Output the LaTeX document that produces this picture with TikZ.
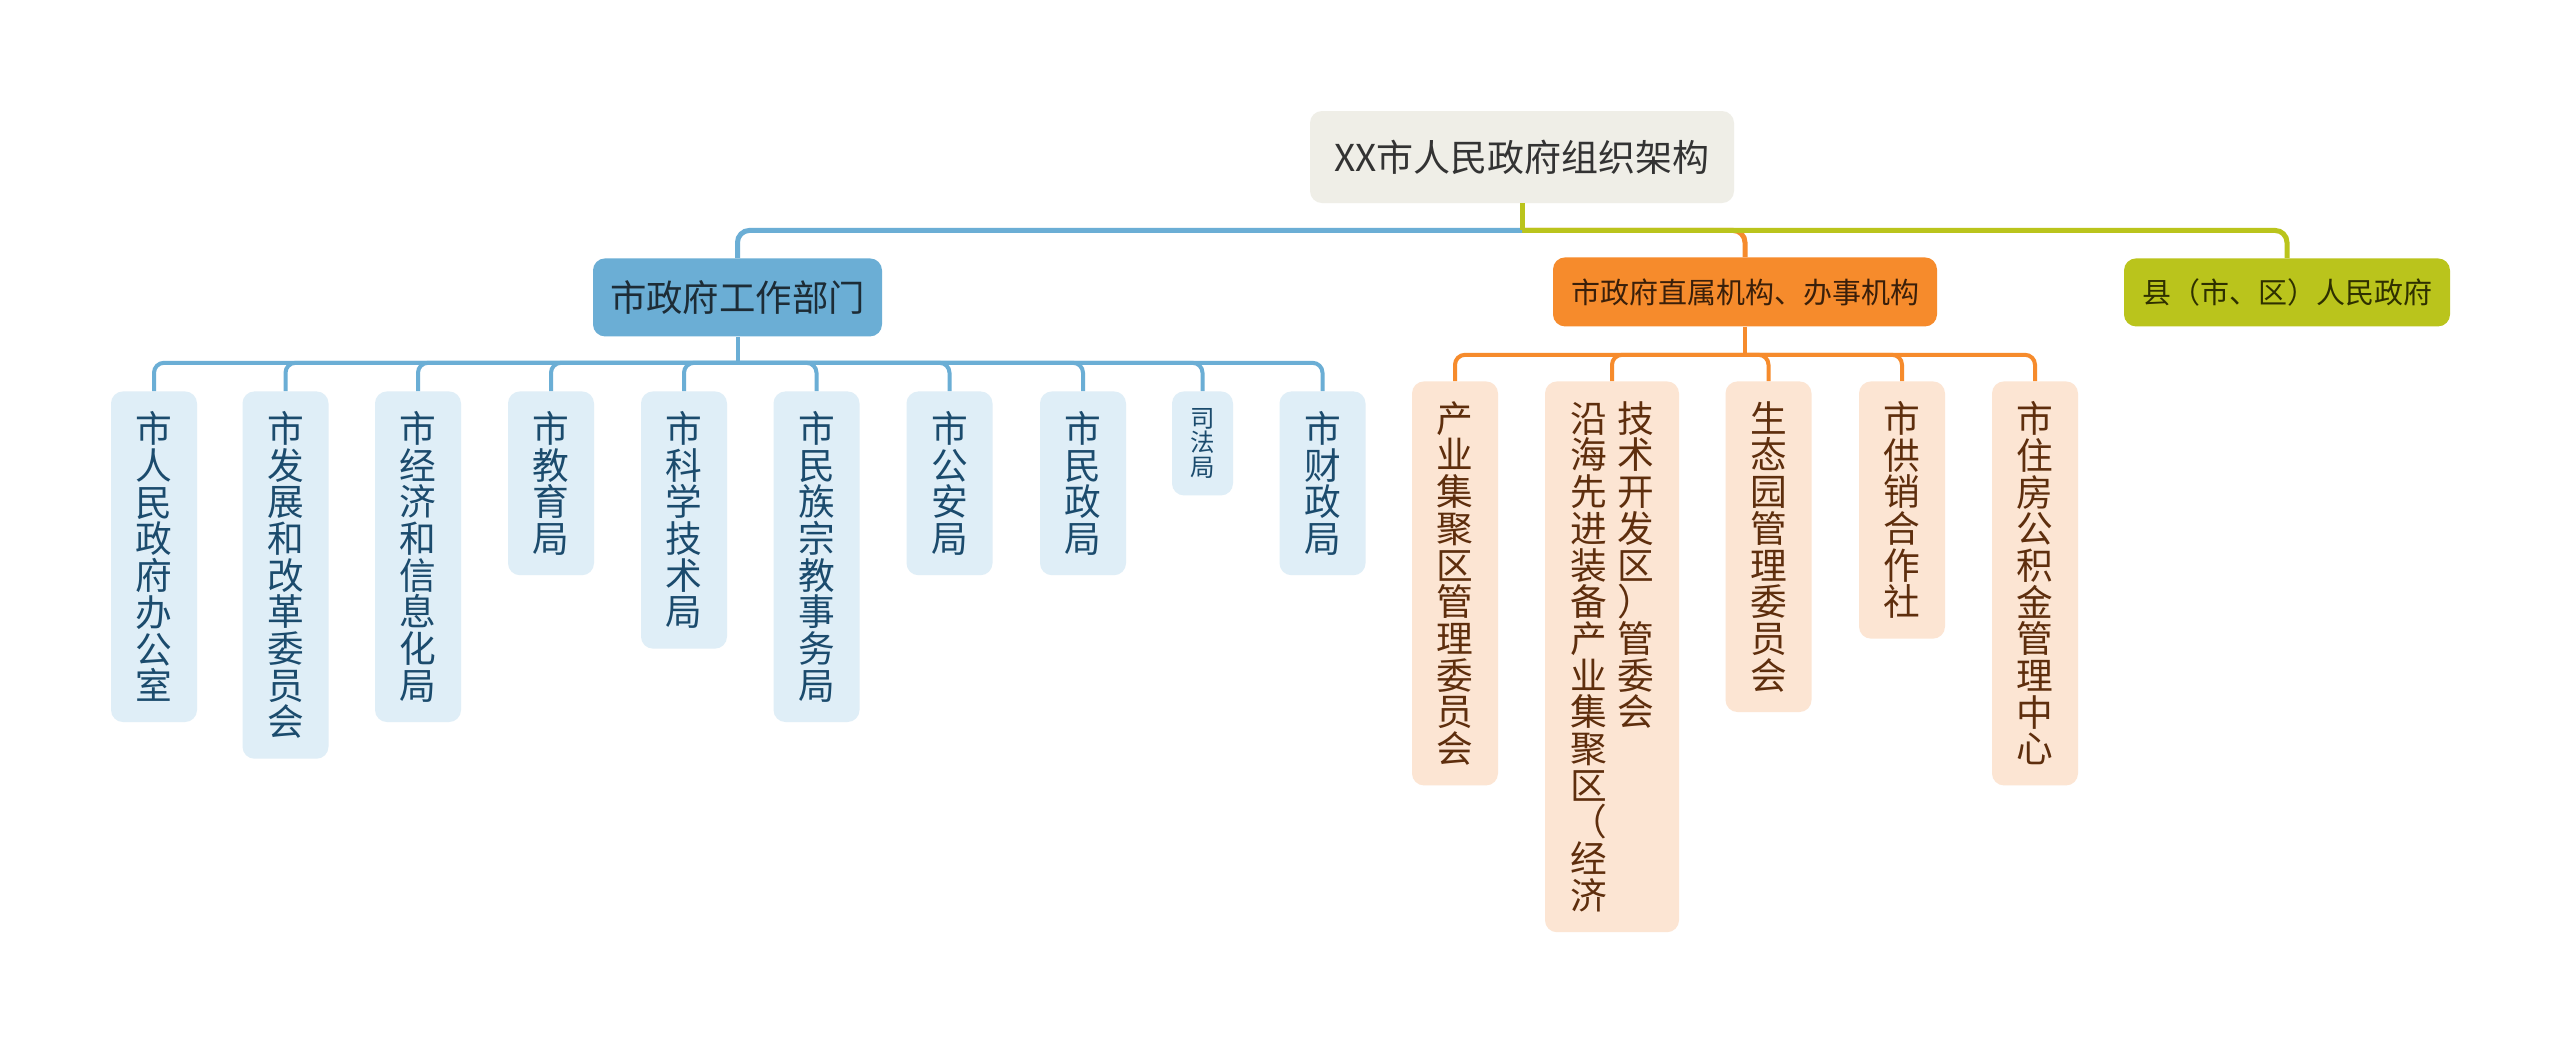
\documentclass[tikz,border=0pt]{standalone}
\usepackage{fontspec}
\setmainfont{Noto Sans CJK SC}
\definecolor{rootc}{HTML}{EFEEE7}
\definecolor{bluec}{HTML}{6BAED5}
\definecolor{orangec}{HTML}{F68B2C}
\definecolor{greenc}{HTML}{BAC41C}
\definecolor{bluelt}{HTML}{DFEEF7}
\definecolor{orangelt}{HTML}{FCE5D3}
\definecolor{bluetext}{HTML}{1B4B6D}
\definecolor{browntext}{HTML}{5E2E0D}
\definecolor{darktext}{HTML}{333333}
\definecolor{bluehead}{HTML}{1D2C36}
\definecolor{orangehead}{HTML}{3A1F0A}
\definecolor{greenhead}{HTML}{2E3000}
\begin{document}
\lineskiplimit=-20pt
\lineskip=0pt
\begin{tikzpicture}[x=0.5pt,y=-0.5pt,
  rootbox/.style={fill=rootc, rounded corners=6pt, minimum width=212pt, minimum height=46pt, inner sep=0pt, text=darktext, font=\fontsize{18.5pt}{22pt}\selectfont},
  headbox/.style={rounded corners=6pt, inner sep=0pt, anchor=north},
  vbox/.style={rounded corners=6pt, minimum width=43pt, inner sep=0pt, anchor=north, align=center, font=\fontsize{18.35pt}{18.35pt}\selectfont},
  vbb/.style={vbox, fill=bluelt, text=bluetext},
  vob/.style={vbox, fill=orangelt, text=browntext},
  vh/.style={minimum height={(18.5+#1*18.35)*1pt}},
  bline/.style={draw=bluec, line width=2.5pt},
  oline/.style={draw=orangec, line width=2.5pt},
  gline/.style={draw=greenc, line width=2.5pt},
  blineS/.style={draw=bluec, line width=2pt, rounded corners=5pt},
  olineS/.style={draw=orangec, line width=2pt, rounded corners=5pt}
]
\fill[white] (0,0) rectangle (2560,1046);
\useasboundingbox (0,0) rectangle (2560,1046);

% root
\node[rootbox] (root) at (1522,157) {XX市人民政府组织架构};

% level 1
\node[headbox, fill=bluec, text=bluehead, minimum width=144.5pt, minimum height=39pt, font=\fontsize{18.2pt}{22pt}\selectfont] (dept) at (737.5,258) {市政府工作部门};
\node[headbox, fill=orangec, text=orangehead, minimum width=192pt, minimum height=34.5pt, font=\fontsize{14.5pt}{18pt}\selectfont] (direct) at (1745,257) {市政府直属机构、办事机构};
\node[headbox, fill=greenc, text=greenhead, minimum width=163pt, minimum height=34pt, font=\fontsize{14.5pt}{18pt}\selectfont] (county) at (2287,258) {县（市、区）人民政府};

% top connectors
\coordinate (j0) at ([yshift=-13.5pt]root.south);
\draw[oline, rounded corners=6pt] (j0) -| (direct.north);
\draw[gline, rounded corners=6pt] (j0) -| (county.north);
\draw[bline, rounded corners=6pt] (j0) -| (dept.north);
\draw[gline] (root.south) -- (j0);

% blue children
\node[vbb, vh=8] (b1) at (154,391) {市\\人\\民\\政\\府\\办\\公\\室};
\node[vbb, vh=9] (b2) at (285.5,391) {市\\发\\展\\和\\改\\革\\委\\员\\会};
\node[vbb, vh=8] (b3) at (418,391) {市\\经\\济\\和\\信\\息\\化\\局};
\node[vbb, vh=4] (b4) at (551,391) {市\\教\\育\\局};
\node[vbb, vh=6] (b5) at (684,391) {市\\科\\学\\技\\术\\局};
\node[vbb, vh=8] (b6) at (816.5,391) {市\\民\\族\\宗\\教\\事\\务\\局};
\node[vbb, vh=4] (b7) at (949.5,391) {市\\公\\安\\局};
\node[vbb, vh=4] (b8) at (1083,391) {市\\民\\政\\局};
\node[vbb, minimum width=30.5pt, minimum height=52pt, font=\fontsize{12.25pt}{12.25pt}\selectfont] (b9) at (1202.5,391) {司\\法\\局};
\node[vbb, vh=4] (b10) at (1322.5,391) {市\\财\\政\\局};

\coordinate (jb) at ([yshift=-13pt]dept.south);
\draw[bline, line width=2pt] (dept.south) -- (jb);
\foreach \c in {b1,b2,b3,b4,b5,b6,b7,b8,b9,b10}
  \draw[blineS] (jb) -| (\c.north);

% orange children
\node[vob, vh=10] (o1) at (1455,381) {产\\业\\集\\聚\\区\\管\\理\\委\\员\\会};
\node[vob, vh=14, minimum width=67pt] (o2) at (1612,381) {沿\hspace{5.15pt}技\\海\hspace{5.15pt}术\\先\hspace{5.15pt}开\\进\hspace{5.15pt}发\\装\hspace{5.15pt}区\\备\hspace{5.15pt}）\\产\hspace{5.15pt}管\\业\hspace{5.15pt}委\\集\hspace{5.15pt}会\\聚\hspace{5.15pt}\phantom{会}\\区\hspace{5.15pt}\phantom{会}\\（\hspace{5.15pt}\phantom{会}\\经\hspace{5.15pt}\phantom{会}\\济\hspace{5.15pt}\phantom{会}};
\node[vob, vh=8] (o3) at (1768.5,381) {生\\态\\园\\管\\理\\委\\员\\会};
\node[vob, vh=6] (o4) at (1902,381) {市\\供\\销\\合\\作\\社};
\node[vob, vh=10] (o5) at (2035,381) {市\\住\\房\\公\\积\\金\\管\\理\\中\\心};

\coordinate (jo) at ([yshift=-14pt]direct.south);
\draw[oline, line width=2pt] (direct.south) -- (jo);
\foreach \c in {o1,o2,o3,o4,o5}
  \draw[olineS] (jo) -| (\c.north);
\end{tikzpicture}
\end{document}
